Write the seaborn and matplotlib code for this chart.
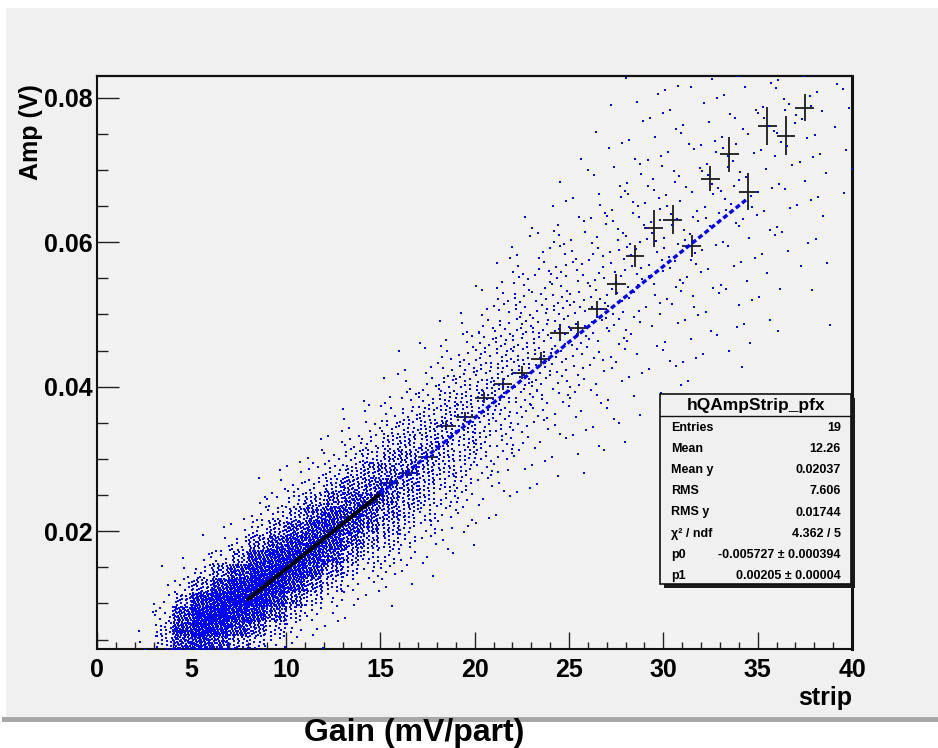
import numpy as np
import pandas as pd
import matplotlib
matplotlib.use("Agg")
import matplotlib.pyplot as plt
import seaborn as sns
from matplotlib.patches import Rectangle
from matplotlib.lines import Line2D
from matplotlib.ticker import MultipleLocator, FuncFormatter

# ---------------- data ----------------
# 2D histogram (drawn as scatter, ROOT "SCAT" style): strip columns of width 1,
# amplitude rows of width 0.002 V starting at 0.0035 V
row_base = 0.0035
row_width = 0.002
col_strip = list(range(2, 40))
col_start_row = [0, 0, 0, 0, 0, 0, 0, 0, 0, 0, 1, 2, 3, 3, 4, 5, 6, 7, 8, 9,
                 10, 11, 12, 12, 13, 14, 16, 17, 18, 16, 20, 20, 17, 22, 22, 24, 22, 31]
col_counts = [
    [2, 1, 1],
    [14, 13, 7, 3, 1, 1],
    [52, 66, 50, 24, 7, 2, 1],
    [71, 110, 110, 71, 29, 8, 2, 1],
    [44, 88, 118, 107, 65, 27, 8, 2, 1],
    [23, 55, 92, 110, 92, 55, 23, 7, 2, 1],
    [13, 36, 75, 110, 118, 95, 58, 28, 10, 4, 2, 1],
    [5, 15, 38, 72, 100, 104, 82, 50, 24, 9, 4, 2, 1],
    [2, 5, 15, 35, 64, 88, 92, 72, 45, 22, 9, 4, 2, 1],
    [1, 2, 5, 14, 33, 56, 76, 80, 63, 40, 20, 8, 4, 2, 1],
    [1, 2, 5, 14, 30, 50, 65, 67, 55, 35, 18, 8, 4, 2, 1],
    [1, 2, 5, 12, 26, 41, 53, 55, 46, 31, 17, 8, 4, 2, 1],
    [1, 2, 5, 12, 23, 35, 43, 45, 38, 27, 15, 8, 4, 2, 1],
    [1, 2, 4, 8, 14, 22, 30, 35, 35, 30, 22, 14, 8, 4, 2, 1, 1],
    [1, 2, 3, 6, 10, 17, 23, 28, 29, 25, 19, 13, 7, 4, 2, 1, 1],
    [1, 2, 3, 6, 9, 14, 18, 22, 22, 20, 16, 11, 7, 4, 2, 1, 1],
    [1, 2, 3, 5, 7, 11, 15, 17, 17, 17, 15, 11, 7, 4, 3, 2, 1],
    [1, 2, 3, 5, 7, 9, 12, 13, 14, 13, 12, 9, 7, 4, 3, 2, 1],
    [1, 1, 2, 3, 5, 7, 9, 10, 11, 11, 11, 9, 7, 5, 4, 2, 1, 1],
    [1, 1, 2, 3, 5, 6, 7, 8, 9, 10, 9, 8, 7, 5, 4, 3, 2, 1, 1],
    [1, 1, 1, 2, 3, 4, 5, 6, 7, 8, 8, 7, 7, 6, 5, 4, 3, 2, 1, 1],
    [1, 1, 1, 2, 3, 4, 5, 6, 6, 7, 6, 6, 5, 4, 3, 3, 2, 1, 1],
    [1, 1, 1, 2, 2, 3, 4, 4, 5, 5, 6, 5, 5, 4, 4, 3, 3, 2, 1, 1, 1],
    [1, 1, 1, 1, 2, 2, 3, 3, 4, 4, 4, 4, 4, 3, 3, 2, 2, 1, 1, 1, 0, 1],
    [1, 1, 1, 1, 2, 2, 2, 3, 3, 3, 4, 4, 3, 3, 3, 2, 2, 2, 1, 1, 1, 0, 1],
    [1, 1, 1, 1, 1, 2, 2, 2, 3, 3, 3, 3, 3, 3, 2, 2, 2, 2, 1, 1, 1, 1, 0, 1],
    [1, 1, 1, 1, 1, 2, 2, 2, 2, 3, 3, 3, 3, 2, 2, 2, 2, 1, 1, 1, 1, 1, 0, 1],
    [1, 0, 1, 1, 1, 1, 2, 2, 2, 2, 2, 3, 3, 2, 2, 2, 2, 1, 1, 1, 1, 1, 1],
    [1, 1, 1, 1, 1, 1, 2, 2, 2, 2, 2, 2, 2, 2, 2, 1, 1, 1, 1, 1, 1, 1],
    [1, 1, 1, 1, 1, 1, 1, 2, 1, 2, 2, 2, 2, 2, 2, 1, 1, 1, 1, 1, 1, 0, 1],
    [1, 1, 1, 1, 1, 1, 1, 1, 1, 2, 2, 2, 2, 2, 2, 1, 1, 1, 1, 1],
    [1, 0, 1, 0, 1, 1, 1, 1, 1, 1, 2, 2, 2, 2, 2, 2, 1, 1, 1, 1],
    [1, 0, 1, 0, 1, 1, 1, 1, 1, 1, 1, 1, 2, 2, 1, 1, 1, 1, 1, 1, 1, 0, 1],
    [1, 0, 1, 0, 1, 1, 1, 1, 1, 1, 1, 1, 2, 1, 2, 2, 1, 1],
    [1, 0, 0, 1, 0, 1, 1, 1, 1, 1, 1, 1, 1, 2, 1, 2, 1, 1],
    [1, 0, 1, 0, 1, 0, 1, 1, 1, 1, 1, 1, 1, 2, 1, 1],
    [1, 0, 0, 0, 1, 0, 1, 0, 1, 1, 0, 1, 1, 1, 0, 1, 1, 0],
    [1, 0, 1, 1, 0, 1, 1, 1, 1],
]

# profile (hQAmpStrip_pfx): bin centre, mean amplitude, error on mean
prof_x = [4.5, 5.5, 6.5, 7.5, 8.5, 9.5, 10.5, 11.5, 12.5, 13.5, 14.5,
          15.5, 16.5, 17.5, 18.5, 19.5, 20.5, 21.5, 22.5, 23.5, 24.5, 25.5,
          26.5, 27.5, 28.5, 29.5, 30.5, 31.5, 32.5, 33.5, 34.5, 35.5, 36.5, 37.5]
prof_y = [0.0062, 0.0071, 0.0082, 0.0102, 0.0118, 0.0137, 0.0158,
          0.0179, 0.0200, 0.0220, 0.0241, 0.0267, 0.0281, 0.0303, 0.0346,
          0.0358, 0.0385, 0.0404, 0.0419, 0.0438, 0.0475, 0.0481, 0.0507,
          0.0542, 0.0581, 0.0619, 0.0631, 0.0595, 0.0688, 0.0722, 0.0670,
          0.0761, 0.0747, 0.0786]
prof_err = [0.0002, 0.0002, 0.0002, 0.0002, 0.0002, 0.0002, 0.0002,
            0.0002, 0.0003, 0.0003, 0.0003, 0.0004, 0.0005, 0.0005, 0.0006,
            0.0007, 0.0008, 0.0008, 0.0009, 0.0010, 0.0010, 0.00104, 0.00115,
            0.00145, 0.00157, 0.00253, 0.0020, 0.00152, 0.00177, 0.00242,
            0.00253, 0.00263, 0.0027, 0.00184]

# linear fit (fit range) and its drawn extension
fit_x = [8.0, 15.0]
fit_y = [0.0106, 0.0252]
ext_x = [15.0, 34.5]
ext_y = [0.0252, 0.0661]

stat_title = "hQAmpStrip_pfx"
stat_labels = ["Entries", "Mean", "Mean y", "RMS", "RMS y", "\u03c7\u00b2 / ndf", "p0", "p1"]
stat_values = ["19", "12.26", "0.02037", "7.606", "0.01744", "4.362 / 5",
               "-0.005727 \u00b1 0.000394", "0.00205 \u00b1 0.00004"]

x_label = "strip"
y_label = "Amp (V)"
bottom_label = "Gain (mV/part)"

# ---------------- build scatter points from the grid ----------------
g1, g2 = 0.7548776662466927, 0.5698402909980532
xs, ys = [], []
for strip, r0, counts in zip(col_strip, col_start_row, col_counts):
    for dj, n in enumerate(counts):
        j = r0 + dj
        s1 = (strip * 0.381966 + j * 0.707107) % 1.0
        s2 = (strip * 0.236068 + j * 0.318310) % 1.0
        for k in range(n):
            u = (s1 + (k + 1) * g1) % 1.0
            v = (s2 + (k + 1) * g2) % 1.0
            xs.append(strip + u)
            ys.append(row_base + row_width * (j + v))
df = pd.DataFrame({"strip": xs, "amp": ys})

# ---------------- figure ----------------
sns.set_theme(style="white")
plt.rcParams["font.family"] = ["Liberation Sans", "DejaVu Sans"]
plt.rcParams["font.weight"] = "bold"
plt.rcParams["text.color"] = "black"
plt.rcParams["xtick.color"] = "black"
plt.rcParams["ytick.color"] = "black"
plt.rcParams["axes.labelcolor"] = "black"

W, H = 938, 748
fig = plt.figure(figsize=(W / 100, H / 100), dpi=100)
fig.patch.set_facecolor("white")

def fx(px):
    return px / W

def fy(py):
    return 1 - py / H

# background layer: ROOT canvas panel with bottom shadow
bg = fig.add_axes([0, 0, 1, 1], zorder=-10)
bg.set_xlim(0, W)
bg.set_ylim(H, 0)
bg.axis("off")
bg.add_patch(Rectangle((2, 717), W - 2, 5, facecolor="#a8a8a8", edgecolor="none"))
bg.add_patch(Rectangle((6, 8), W - 6, 709, facecolor="#f0f0f0", edgecolor="none"))

ax = fig.add_axes([fx(97.3), fy(649), fx(852) - fx(97.3), fy(76) - fy(649)], zorder=1)
ax.set_facecolor("#f2f2f2")

ax.errorbar(prof_x, prof_y, xerr=0.5, yerr=prof_err, fmt="none",
            ecolor="#1c1c1c", elinewidth=1.3, capsize=0, zorder=2)
sns.scatterplot(data=df, x="strip", y="amp", ax=ax, color="#0000ff",
                marker="s", s=2.3, linewidth=0, legend=False, zorder=3)
n_before = len(ax.lines)
sns.lineplot(x=fit_x, y=fit_y, ax=ax, color="black", linewidth=3.0, zorder=4)
sns.lineplot(x=ext_x, y=ext_y, ax=ax, color="#0000ff", linewidth=2.4, zorder=5)
ax.lines[n_before + 1].set_dashes((1.5, 0.9))

ax.set_xlim(0, 40)
ax.set_ylim(0.0037, 0.0830)
ax.xaxis.set_major_locator(MultipleLocator(5))
ax.xaxis.set_minor_locator(MultipleLocator(1))
ax.yaxis.set_major_locator(MultipleLocator(0.02))
ax.yaxis.set_minor_locator(MultipleLocator(0.005))
ax.xaxis.set_major_formatter(FuncFormatter(lambda v, p: f"{v:.0f}"))
ax.yaxis.set_major_formatter(FuncFormatter(lambda v, p: f"{v:.2f}"))
ax.tick_params(axis="y", which="major", direction="in", length=15.8, width=1.0,
               color="#222222", labelsize=18, pad=3.6, left=True, right=False,
               labelcolor="black")
ax.tick_params(axis="y", which="minor", direction="in", length=7.9, width=1.0,
               color="#222222", left=True, right=False)
ax.tick_params(axis="x", which="major", direction="in", length=12.2, width=1.0,
               color="#222222", labelsize=18, pad=6.5, bottom=True, top=False,
               labelcolor="black")
ax.tick_params(axis="x", which="minor", direction="in", length=5.4, width=1.0,
               color="#222222", bottom=True, top=False)
for lab in ax.get_xticklabels() + ax.get_yticklabels():
    lab.set_fontweight("bold")
ax.set_xlabel("")
ax.set_ylabel("")
for side, lw in [("left", 1.5), ("bottom", 1.5), ("top", 1.6), ("right", 2.2)]:
    ax.spines[side].set_visible(True)
    ax.spines[side].set_color("#111111")
    ax.spines[side].set_linewidth(lw)

# axis titles
fig.text(fx(31), fy(84), y_label, rotation=90, ha="center", va="top",
         fontsize=18, fontweight="bold", color="black")
fig.text(fx(852), fy(705), x_label, ha="right", va="baseline",
         fontsize=18, fontweight="bold", color="black")
fig.text(fx(414), fy(741), bottom_label, ha="center", va="baseline",
         fontsize=23, fontweight="bold", color="black")

# statistics box (pixel-coordinate overlay)
ov = fig.add_axes([0, 0, 1, 1], zorder=10)
ov.set_xlim(0, W)
ov.set_ylim(H, 0)
ov.axis("off")
ov.patch.set_alpha(0)
bx0, by0, bx1, by1 = 660.3, 394.3, 850.7, 584.3
ov.add_patch(Rectangle((bx0 + 4, by0 + 4), bx1 - bx0, by1 - by0,
                       facecolor="#1a1a1a", edgecolor="none"))
ov.add_patch(Rectangle((bx0, by0), bx1 - bx0, by1 - by0,
                       facecolor="#f0f0f0", edgecolor="#111111", linewidth=1.2))
ov.add_line(Line2D([bx0, bx1], [415.7, 415.7], color="#111111", linewidth=1.0))
ov.text((bx0 + bx1) / 2, 405.5, stat_title, ha="center", va="center",
        fontsize=12.5, fontweight="bold", color="black")
row_y0, row_dy = 427.7, 21.2
for i, (lab, val) in enumerate(zip(stat_labels, stat_values)):
    yy = row_y0 + i * row_dy
    ov.text(670.7, yy, lab, ha="left", va="center", fontsize=9, fontweight="bold",
            color="black")
    ov.text(841.0, yy, val, ha="right", va="center", fontsize=9, fontweight="bold",
            color="black")

fig.savefig("out.png", dpi=100, facecolor=fig.get_facecolor())
